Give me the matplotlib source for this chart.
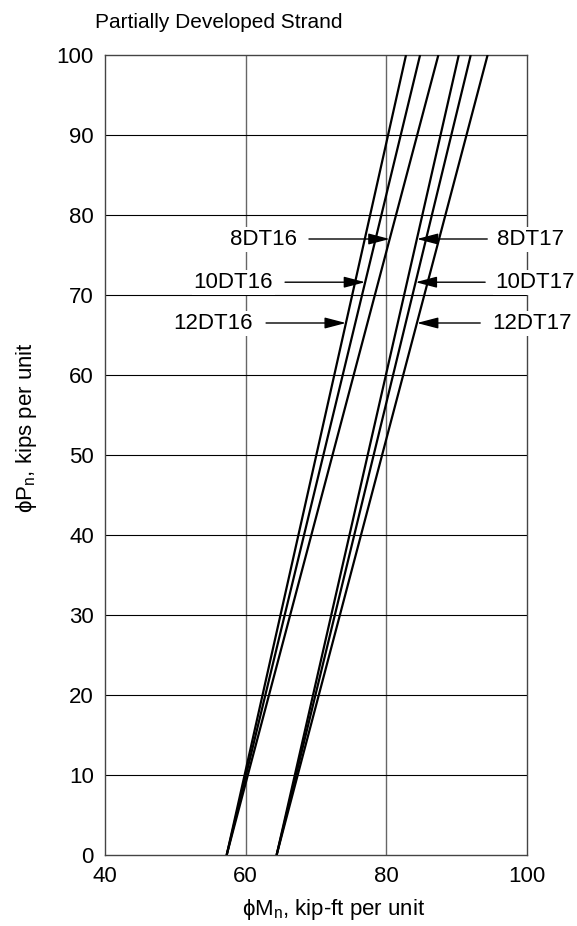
import numpy as np
import matplotlib
matplotlib.use("Agg")
import matplotlib.pyplot as plt

plt.rcParams["font.family"] = ["Liberation Sans", "DejaVu Sans"]

# phiPn (kips per unit) at both ends of each line
p_ends = [0, 100]
# phiMn (kip-ft per unit) at those ends
m_8dt16 = [57.3, 87.4]
m_10dt16 = [57.3, 84.8]
m_12dt16 = [57.3, 82.8]
m_8dt17 = [64.4, 90.3]
m_10dt17 = [64.4, 92.0]
m_12dt17 = [64.4, 94.4]

series = {
    "8DT16": m_8dt16, "10DT16": m_10dt16, "12DT16": m_12dt16,
    "8DT17": m_8dt17, "10DT17": m_10dt17, "12DT17": m_12dt17,
}

# label name -> (phiPn where the arrow hits, text x, arrow tail x, side)
labels = [
    ("8DT16", 77.0, 67.3, 69.0, "left"),
    ("10DT16", 71.6, 63.9, 65.6, "left"),
    ("12DT16", 66.5, 61.05, 62.9, "left"),
    ("8DT17", 77.0, 95.8, 94.35, "right"),
    ("10DT17", 71.6, 95.5, 94.05, "right"),
    ("12DT17", 66.5, 95.05, 93.35, "right"),
]

fig = plt.figure(figsize=(5.77, 9.26), dpi=100)
ax = fig.add_axes([105 / 577, 71 / 926, 422 / 577, 800 / 926])

ax.set_xlim(40, 100)
ax.set_ylim(0, 100)
ax.set_xticks([40, 60, 80, 100])
ax.set_yticks(np.arange(0, 101, 10))
ax.tick_params(length=0, labelsize=16, pad=8)

# grid
for x in [60, 80]:
    ax.axvline(x, color="#666666", lw=1.0, zorder=1)
for y in range(10, 100, 10):
    ax.axhline(y, color="black", lw=0.8, zorder=1)
for sp in ax.spines.values():
    sp.set_color("#444444")
    sp.set_linewidth(1.0)
    sp.set_zorder(2)

for name, m in series.items():
    ax.plot(m, p_ends, color="black", lw=1.6, zorder=3, solid_capstyle="butt")

for name, p, tx, tail, side in labels:
    tip = np.interp(p, p_ends, series[name])
    ax.annotate("", xy=(tip, p), xytext=(tail, p),
                arrowprops=dict(arrowstyle="-|>,head_length=0.65,head_width=0.17",
                                mutation_scale=20, color="black", lw=1.0,
                                shrinkA=0, shrinkB=0),
                zorder=4, annotation_clip=False)
    ax.text(tx, p, name, fontsize=16, ha="right" if side == "left" else "left",
            va="center", zorder=5, clip_on=False,
            bbox=dict(facecolor="white", edgecolor="none", pad=1.5))

fig.text(95 / 577, 1 - 22 / 926, "Partially Developed Strand", fontsize=15,
         ha="left", va="center")
fig.text(334 / 577, 1 - 910 / 926, "ϕM$_\\mathregular{n}$, kip-ft per unit",
         fontsize=16, ha="center", va="center")
fig.text(27 / 577, 1 - 428 / 926, "ϕP$_\\mathregular{n}$, kips per unit",
         fontsize=16, ha="center", va="center", rotation=90)

fig.savefig("out.png", dpi=100)
